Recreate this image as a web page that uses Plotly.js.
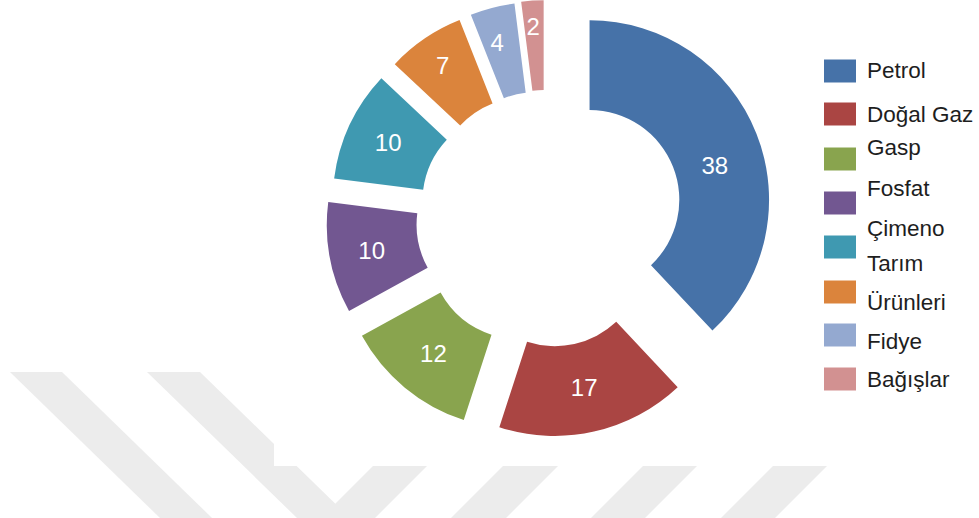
<!DOCTYPE html>
<html><head><meta charset="utf-8">
<script src="https://cdn.plot.ly/plotly-3.0.1.min.js"></script>
<style>
html,body{margin:0;padding:0;overflow:hidden;background:#fff;width:979px;height:518px}
#wrap{position:relative;width:979px;height:518px;overflow:hidden}
#chart{position:absolute;left:0;top:-42px;width:979px;height:560px}
</style>
</head><body><div id="wrap"><div id="chart"></div></div>
<script>
// ---- data ----
const labels = ['Petrol', 'Doğal Gaz', 'Gasp', 'Fosfat', 'Çimeno', 'Tarım Ürünleri', 'Fidye', 'Bağışlar'];
const values = [38, 17, 12, 10, 10, 7, 4, 2];
const legendLines = ['Petrol', 'Doğal Gaz', 'Gasp', 'Fosfat', 'Çimeno', 'Tarım', 'Ürünleri', 'Fidye', 'Bağışlar'];

// ---- style ----
const colors = ['#4672a8', '#aa4543', '#89a44e', '#725791', '#3f99b1', '#db843c', '#94a9d0', '#d29191'];
const pulls = [0.261, 0.225, 0.234, 0.225, 0.208, 0.202, 0.203, 0.208];
const NB = '\u00a0<br>';
const labelTemplates = [NB + '%{value}', '%{value}', '%{value}', '%{value}', '%{value}', '%{value}', NB + '%{value}', NB + '%{value}'];
const FONT = '"Liberation Sans", Arial, sans-serif';

// ---- layout helpers (page pixels -> paper) ----
const W = 979, D = 560, OFF = 42;
const px = x => x / W;
const py = y => 1 - (y + OFF) / D;

const cx = 546, cy = 217, R = 179.5;
const maxPull = Math.max(...pulls);
const half = R * (1 + maxPull);
const yMid = 1 - (cy + OFF) / D;
const yHalf = (half + 4) / D;

const trace = {
  type: 'pie',
  labels: labels,
  values: values,
  sort: false,
  direction: 'clockwise',
  rotation: 0,
  hole: 0.5,
  pull: pulls,
  marker: {colors: colors, line: {width: 0}},
  textinfo: 'value',
  texttemplate: labelTemplates,
  textposition: 'inside',
  insidetextorientation: 'horizontal',
  textfont: {family: FONT, size: 24, color: '#ffffff'},
  hoverinfo: 'label+value+percent',
  showlegend: false,
  domain: {x: [px(cx - half), px(cx + half)], y: [yMid - yHalf, yMid + yHalf]}
};

// watermark bands (background)
const bands = [
  [[10,372],[62,372],[212,518],[160,518]],
  [[147,372],[200,372],[350,518],[297,518]],
  [[373,466],[427,466],[375,518],[321,518]],
  [[503,466],[558,466],[506,518],[451,518]],
  [[643,466],[697,466],[645,518],[591,518]],
  [[773,466],[827,466],[775,518],[721,518]]
];
const shapes = [];
bands.forEach(b => {
  const path = 'M' + b.map(p => px(p[0]).toFixed(5) + ',' + py(p[1]).toFixed(5)).join(' L') + ' Z';
  shapes.push({type: 'path', xref: 'paper', yref: 'paper', path: path,
    fillcolor: '#ececec', line: {width: 0}, layer: 'below'});
});
shapes.push({type: 'rect', xref: 'paper', yref: 'paper', x0: px(274), x1: px(830), y0: py(466), y1: py(-10),
  fillcolor: '#ffffff', line: {width: 0}, layer: 'below'});

// legend swatches
const boxY = [71, 114, 159, 203, 247, 292, 335, 379];
colors.forEach((c, i) => {
  shapes.push({type: 'rect', xref: 'paper', yref: 'paper', x0: px(824), x1: px(856),
    y0: py(boxY[i] + 11.5), y1: py(boxY[i] - 11.5), fillcolor: c, line: {width: 0}});
});

// legend text
const lineY = [71, 114, 147, 188, 228, 263, 302, 341, 379];
const annotations = legendLines.map((t, i) => ({
  xref: 'paper', yref: 'paper', x: px(865), y: py(lineY[i]), xanchor: 'left', yanchor: 'middle',
  text: t, showarrow: false, font: {family: FONT, size: 22.5, color: '#1e1e1e'}
}));

const layout = {
  width: W, height: D,
  margin: {l: 0, r: 0, t: 0, b: 0},
  paper_bgcolor: '#ffffff',
  plot_bgcolor: '#ffffff',
  showlegend: false,
  shapes: shapes,
  annotations: annotations,
  uniformtext: {minsize: 24, mode: 'show'}
};

Plotly.newPlot('chart', [trace], layout, {displayModeBar: false});
</script>
</body></html>
